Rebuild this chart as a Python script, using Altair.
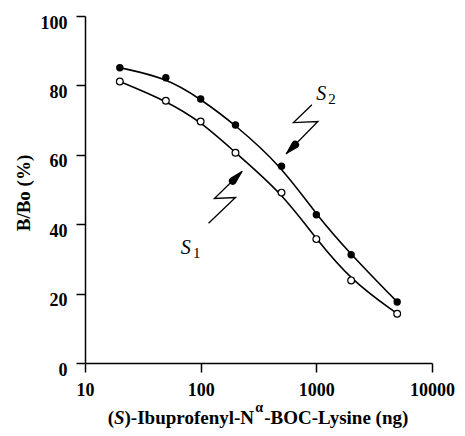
import altair as alt
import pandas as pd

# ---- data ----
conc = [20, 50, 100, 200, 500, 1000, 2000, 5000]
s1 = [81.1, 75.6, 69.6, 60.6, 49.1, 35.7, 23.8, 14.2]
s2 = [85.1, 82.2, 76.1, 68.6, 56.7, 42.7, 31.2, 17.6]

x_ticks = [10, 100, 1000, 10000]
y_ticks = [0, 20, 40, 60, 80, 100]

# annotation zigzag arrows (data units)
arrow_s2_x = [916, 635, 1032, 549]
arrow_s2_y = [74.4, 69.3, 69.6, 60.3]
arrow_s1_x = [117, 200, 131.5, 228]
arrow_s1_y = [40.3, 47.7, 47.4, 55.2]

# arrowheads: base point and tip (data units)
head_s2_x = [655, 549]
head_s2_y = [62.9, 60.3]
head_s1_x = [190, 228]
head_s1_y = [52.5, 55.2]

# series labels
label_text = ["S", "2", "S", "1"]
label_x = [1000, 1268, 67.3, 86]
label_y = [75.8, 74.7, 31.5, 30.2]
label_kind = ["main", "sub", "main", "sub"]

# x-axis title pieces
title_pieces = ["(", "S", ")-Ibuprofenyl-N", "\u03b1", "-BOC-Lysine (ng)"]

FONT = "Liberation Serif"
W, H = 347, 347

df_pts = pd.DataFrame({
    "conc": conc * 2,
    "val": s1 + s2,
    "series": ["S1"] * len(conc) + ["S2"] * len(conc),
})
d1 = df_pts[df_pts.series == "S1"]
d2 = df_pts[df_pts.series == "S2"]

xscale = alt.Scale(type="log", domain=[10, 10000], nice=False)
yscale = alt.Scale(domain=[0, 100], nice=False, zero=True)

xenc = alt.X("conc:Q", scale=xscale,
             axis=alt.Axis(values=x_ticks, format="d", title=None, grid=False,
                           labelFlush=False, labelOverlap=False, labelBound=False,
                           labelBaseline="top", labelPadding=9))
yenc = alt.Y("val:Q", scale=yscale,
             axis=alt.Axis(values=y_ticks, grid=False, title="B/Bo  (%)",
                           titleX=-56, titleY=H / 2 + 3, titleAngle=270,
                           titleAlign="center", titleBaseline="alphabetic",
                           labelFlush=False, labelPadding=9, labelBaseline="top",
                           labelOffset=-2))

lines = alt.Chart(df_pts).mark_line(interpolate="basis", color="black", strokeWidth=1.6).encode(
    x=xenc, y=yenc, detail="series:N")

pts_open = alt.Chart(d1).mark_point(shape="circle", filled=True, color="white",
                                    stroke="black", strokeWidth=1.2, size=46, opacity=1).encode(
    x="conc:Q", y="val:Q")
pts_fill = alt.Chart(d2).mark_point(shape="circle", filled=True, color="black",
                                    size=55, opacity=1).encode(
    x="conc:Q", y="val:Q")

arr = pd.DataFrame({
    "conc": arrow_s2_x + arrow_s1_x,
    "val": arrow_s2_y + arrow_s1_y,
    "grp": ["a2"] * 4 + ["a1"] * 4,
    "ord": list(range(4)) * 2,
})
arrow_lines = alt.Chart(arr).mark_line(color="black", strokeWidth=1.3).encode(
    x="conc:Q", y="val:Q", detail="grp:N", order="ord:Q")

heads_df = pd.DataFrame({
    "conc": head_s2_x + head_s1_x,
    "val": head_s2_y + head_s1_y,
    "w": [8, 0, 8, 0],
    "ord": [0, 1, 0, 1],
    "grp": ["h2", "h2", "h1", "h1"],
})
heads = alt.Chart(heads_df).mark_trail(color="black", opacity=1).encode(
    x="conc:Q", y="val:Q", size=alt.Size("w:Q", scale=None, legend=None),
    detail="grp:N", order="ord:Q")

lab = pd.DataFrame({"conc": label_x, "val": label_y, "t": label_text, "k": label_kind})
lab_main = alt.Chart(lab[lab.k == "main"]).mark_text(
    font=FONT, fontSize=20, fontStyle="italic", align="left", baseline="alphabetic",
    color="black").encode(x="conc:Q", y="val:Q", text="t:N")
lab_sub = alt.Chart(lab[lab.k == "sub"]).mark_text(
    font=FONT, fontSize=15, align="left", baseline="alphabetic",
    color="black").encode(x="conc:Q", y="val:Q", text="t:N")

# x title assembled from pieces (Times metrics, em units)
F = 19
SUP = 14
widths = [0.333 * F, 0.556 * F, 6.833 * F, 0.56 * SUP + 2, 7.639 * F]
total = sum(widths)
start = (85 + 432) / 2 - 85 - total / 2
xs = []
cur = start
for w in widths:
    xs.append(cur)
    cur += w
styles = [
    dict(fontStyle="normal", fontSize=F, dy=0),
    dict(fontStyle="italic", fontSize=F, dy=0),
    dict(fontStyle="normal", fontSize=F, dy=0),
    dict(fontStyle="normal", fontSize=SUP, dy=-12),
    dict(fontStyle="normal", fontSize=F, dy=0),
]
one = pd.DataFrame({"a": [0]})
title_layers = []
for piece, x0, st in zip(title_pieces, xs, styles):
    title_layers.append(
        alt.Chart(one).mark_text(
            text=piece, font=FONT, fontWeight="bold", fontStyle=st["fontStyle"],
            fontSize=st["fontSize"], align="left", baseline="alphabetic", color="black"
        ).encode(x=alt.value(x0 + (1 if piece == "\u03b1" else 0)),
                 y=alt.value(408 + st["dy"]))
    )

chart = alt.layer(lines, pts_open, pts_fill, arrow_lines, heads, lab_main, lab_sub,
                  *title_layers).properties(
    width=W, height=H,
    autosize=alt.AutoSizeParams(type="none"),
    padding={"left": 77, "top": 8, "right": 25, "bottom": 65},
).configure_view(stroke=None).configure_axis(
    domainColor="black", domainWidth=1.5, tickColor="black", tickWidth=1.5, tickSize=9,
    labelFont=FONT, labelFontSize=18, labelFontWeight="bold", labelColor="black",
    titleFont=FONT, titleFontSize=19, titleFontWeight="bold", titleColor="black",
)

chart.save("out.html", embed_options={"renderer": "svg", "actions": False})
